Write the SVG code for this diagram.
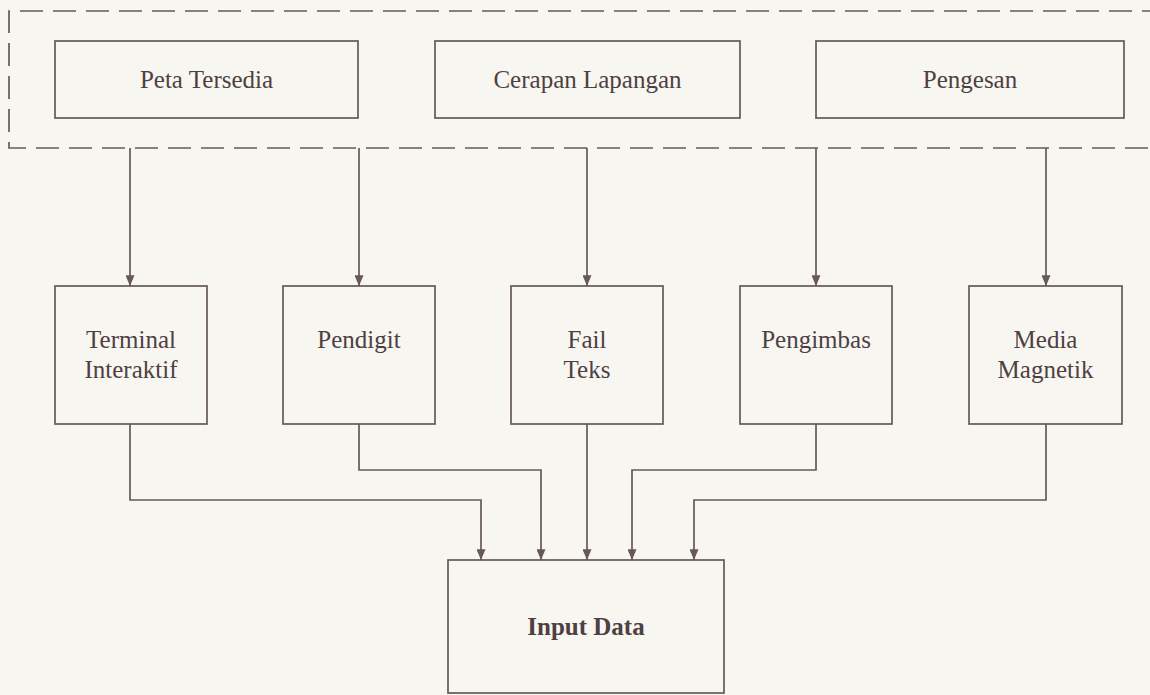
<svg xmlns="http://www.w3.org/2000/svg" width="1150" height="695" viewBox="0 0 1150 695">
<style>
.bg{fill:#f8f6f1}
.box{fill:none;stroke:#67585a;stroke-width:1.7}
.ln{fill:none;stroke:#67585a;stroke-width:1.7}
.dash{fill:none;stroke:#67585a;stroke-width:1.7;stroke-dasharray:23 10}
.t{font-family:"Liberation Serif","Times New Roman",serif;font-size:25px;fill:#4e4042;text-anchor:middle}
.b{font-weight:bold}
</style>
<defs>
<marker id="ah" viewBox="0 0 12 10" refX="12" refY="5" markerWidth="11" markerHeight="9" markerUnits="userSpaceOnUse" orient="auto">
<path d="M0,0 L12,5 L0,10 z" fill="#67585a"/>
</marker>
</defs>
<rect class="bg" x="0" y="0" width="1150" height="695"/>
<g id="group-sources">
<path class="dash" d="M1165,11 H9 V148 H1165"/>
</g>
<g id="node-peta">
<rect class="box" x="55" y="41" width="303" height="77"/>
<text class="t" x="206.5" y="88">Peta Tersedia</text>
</g>
<g id="node-cerapan">
<rect class="box" x="435" y="41" width="305" height="77"/>
<text class="t" x="587.5" y="88">Cerapan Lapangan</text>
</g>
<g id="node-pengesan">
<rect class="box" x="816" y="41" width="308" height="77"/>
<text class="t" x="970" y="88">Pengesan</text>
</g>
<g id="node-terminal">
<rect class="box" x="55" y="286" width="152" height="138"/>
<text class="t" x="131" y="348">Terminal</text>
<text class="t" x="131" y="378">Interaktif</text>
</g>
<g id="node-pendigit">
<rect class="box" x="283" y="286" width="152" height="138"/>
<text class="t" x="359" y="348">Pendigit</text>
</g>
<g id="node-fail">
<rect class="box" x="511" y="286" width="152" height="138"/>
<text class="t" x="587" y="348">Fail</text>
<text class="t" x="587" y="378">Teks</text>
</g>
<g id="node-pengimbas">
<rect class="box" x="740" y="286" width="152" height="138"/>
<text class="t" x="816" y="348">Pengimbas</text>
</g>
<g id="node-media">
<rect class="box" x="969" y="286" width="153" height="138"/>
<text class="t" x="1045.5" y="348">Media</text>
<text class="t" x="1045.5" y="378">Magnetik</text>
</g>
<g id="node-input">
<rect class="box" x="448" y="560" width="276" height="133"/>
<text class="t b" x="586" y="635">Input Data</text>
</g>
<g id="connectors">
<path class="ln" d="M130,148 V286" marker-end="url(#ah)"/>
<path class="ln" d="M359,148 V286" marker-end="url(#ah)"/>
<path class="ln" d="M587,148 V286" marker-end="url(#ah)"/>
<path class="ln" d="M816,148 V286" marker-end="url(#ah)"/>
<path class="ln" d="M1046,148 V286" marker-end="url(#ah)"/>
<path class="ln" d="M130,424 V500 H481 V560" marker-end="url(#ah)"/>
<path class="ln" d="M359,424 V470 H541 V560" marker-end="url(#ah)"/>
<path class="ln" d="M587,424 V560" marker-end="url(#ah)"/>
<path class="ln" d="M816,424 V470 H632 V560" marker-end="url(#ah)"/>
<path class="ln" d="M1046,424 V500 H694 V560" marker-end="url(#ah)"/>
</g>
</svg>
